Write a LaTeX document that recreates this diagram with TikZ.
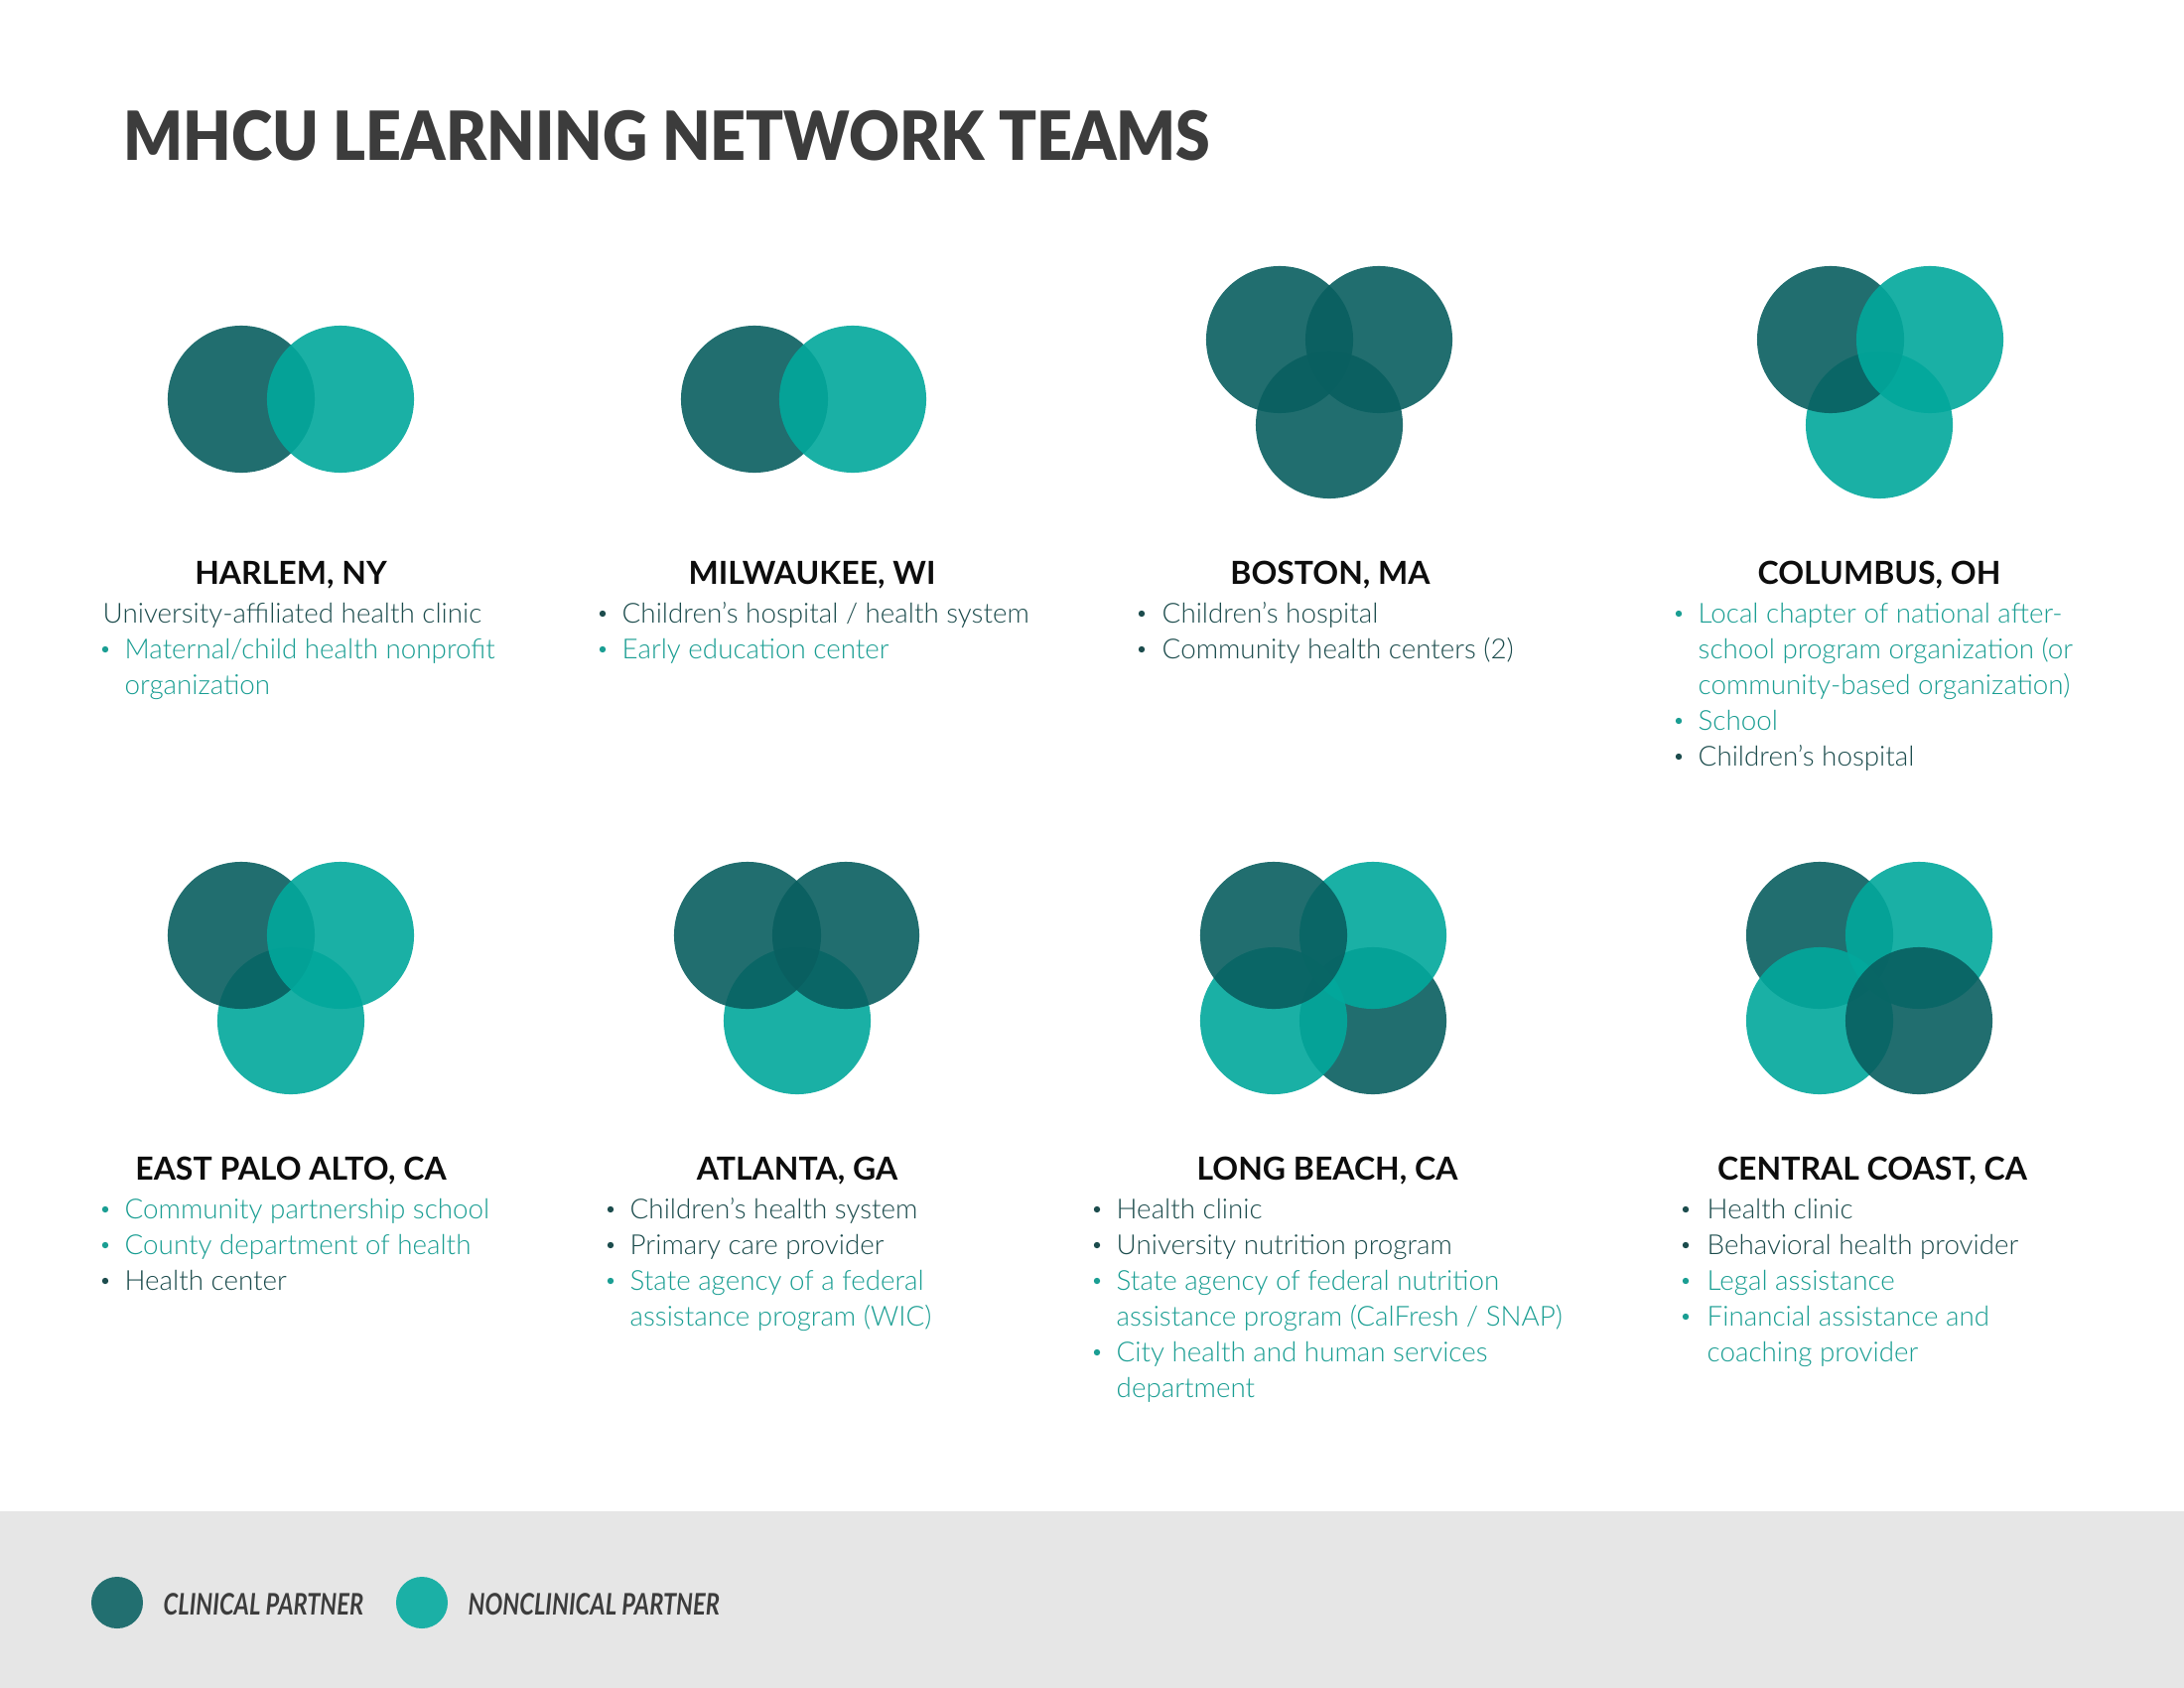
\documentclass[tikz,border=0pt]{standalone}
\usepackage{fontspec}
\setmainfont{Lato}
\IfFontExistsTF{Lato Light}{\newfontfamily\bodyfont{Lato Light}}{\newfontfamily\bodyfont{Lato}}
\IfFontExistsTF{Lato Black}{\newfontfamily\titlefont{Lato Black}[FakeStretch=0.918]}{\newfontfamily\titlefont{Lato}[FakeStretch=0.93,FakeBold=1]}
\newfontfamily\legendfont{Lato}[FakeStretch=0.79]
\definecolor{cD}{HTML}{095F60}
\definecolor{cL}{HTML}{02A89C}
\definecolor{cDs}{HTML}{226F70}
\definecolor{cLs}{HTML}{1BB0A6}
\definecolor{txD}{HTML}{1C4C4D}
\definecolor{txL}{HTML}{1A9E93}
\definecolor{ttl}{HTML}{3C3C3C}
\definecolor{band}{HTML}{E6E6E6}
\newcommand\bulD[2]{\fill[txD] (#1,#2-9) circle[radius=0.032cm];}
\newcommand\bulL[2]{\fill[txL] (#1,#2-9) circle[radius=0.032cm];}
\begin{document}
\begin{tikzpicture}[x=0.01cm,y=-0.01cm,
  dk/.style={fill=cD,fill opacity=0.9},
  lt/.style={fill=cL,fill opacity=0.9},
  body/.style={inner sep=0pt,anchor=base west,font=\bodyfont\fontsize{7.9}{9}\selectfont},
  bd/.style={body,text=txD},
  bl/.style={body,text=txL},
  head/.style={inner sep=0pt,anchor=base,font=\fontsize{9.1}{11}\selectfont\bfseries,text=black!95},
  leg/.style={inner sep=0pt,anchor=base west,font=\legendfont\fontsize{8.5}{10}\selectfont\bfseries\itshape,text=ttl}]
\fill[white] (0,0) rectangle (2200,1700);
\useasboundingbox (0,0) rectangle (2200,1700);
\fill[band] (0,1522) rectangle (2200,1700);
% title
\node[inner sep=0pt,anchor=base west,font=\titlefont\fontsize{19.4}{22}\selectfont,text=ttl] (title) at (124,162) {MHCU LEARNING NETWORK TEAMS};
% ---------- row 1 circles ----------
% Harlem
\fill[dk] (243,402) circle[radius=0.74cm];
\fill[lt] (343,402) circle[radius=0.74cm];
% Milwaukee
\fill[dk] (760,402) circle[radius=0.74cm];
\fill[lt] (859,402) circle[radius=0.74cm];
% Boston
\fill[dk] (1289,342) circle[radius=0.74cm];
\fill[dk] (1389,342) circle[radius=0.74cm];
\fill[dk] (1339,428) circle[radius=0.74cm];
% Columbus
\fill[lt] (1893,428) circle[radius=0.74cm];
\fill[dk] (1844,342) circle[radius=0.74cm];
\fill[lt] (1944,342) circle[radius=0.74cm];
% ---------- row 2 circles ----------
% East Palo Alto
\fill[lt] (293,1028) circle[radius=0.74cm];
\fill[dk] (243,942) circle[radius=0.74cm];
\fill[lt] (343,942) circle[radius=0.74cm];
% Atlanta
\fill[lt] (803,1028) circle[radius=0.74cm];
\fill[dk] (753,942) circle[radius=0.74cm];
\fill[dk] (852,942) circle[radius=0.74cm];
% Long Beach
\fill[dk] (1383,1028) circle[radius=0.74cm];
\fill[lt] (1383,942) circle[radius=0.74cm];
\fill[lt] (1283,1028) circle[radius=0.74cm];
\fill[dk] (1283,942) circle[radius=0.74cm];
% Central Coast
\fill[dk] (1833,942) circle[radius=0.74cm];
\fill[lt] (1933,942) circle[radius=0.74cm];
\fill[lt] (1833,1028) circle[radius=0.74cm];
\fill[dk] (1933,1028) circle[radius=0.74cm];
% ---------- headings ----------
\node[head] (hHarlem) at (293,588) {HARLEM, NY};
\node[head] (hMil) at (818,588) {MILWAUKEE, WI};
\node[head] (hBos) at (1340,588) {BOSTON, MA};
\node[head] (hCol) at (1893,588) {COLUMBUS, OH};
\node[head] (hEPA) at (293,1188) {EAST PALO ALTO, CA};
\node[head] (hAtl) at (803,1188) {ATLANTA, GA};
\node[head] (hLB) at (1337,1188) {LONG BEACH, CA};
\node[head] (hCC) at (1886,1188) {CENTRAL COAST, CA};
% ---------- Harlem text ----------
\node[bd] (ha1) at (103,627) {University-affiliated health clinic};
\bulL{106}{663}
\node[bl] (ha2) at (125,663) {Maternal/child health nonprofit};
\node[bl] (ha3) at (125,699) {organization};
% ---------- Milwaukee ----------
\bulD{607}{627}
\node[bd] (mi1) at (626,627) {Children’s hospital / health system};
\bulL{607}{663}
\node[bl] (mi2) at (626,663) {Early education center};
% ---------- Boston ----------
\bulD{1150}{627}
\node[bd] (bo1) at (1170,627) {Children’s hospital};
\bulD{1150}{663}
\node[bd] (bo2) at (1170,663) {Community health centers (2)};
% ---------- Columbus ----------
\bulL{1691}{627}
\node[bl] (co1) at (1710,627) {Local chapter of national after-};
\node[bl] (co2) at (1710,663) {school program organization (or};
\node[bl] (co3) at (1710,699) {community-based organization)};
\bulL{1691}{735}
\node[bl] (co4) at (1710,735) {School};
\bulD{1691}{771}
\node[bd] (co5) at (1710,771) {Children’s hospital};
% ---------- East Palo Alto ----------
\bulL{106}{1227}
\node[bl] (ep1) at (125,1227) {Community partnership school};
\bulL{106}{1263}
\node[bl] (ep2) at (125,1263) {County department of health};
\bulD{106}{1299}
\node[bd] (ep3) at (125,1299) {Health center};
% ---------- Atlanta ----------
\bulD{615}{1227}
\node[bd] (at1) at (634,1227) {Children’s health system};
\bulD{615}{1263}
\node[bd] (at2) at (634,1263) {Primary care provider};
\bulL{615}{1299}
\node[bl] (at3) at (634,1299) {State agency of a federal};
\node[bl] (at4) at (634,1335) {assistance program (WIC)};
% ---------- Long Beach ----------
\bulD{1105}{1227}
\node[bd] (lb1) at (1124,1227) {Health clinic};
\bulD{1105}{1263}
\node[bd] (lb2) at (1124,1263) {University nutrition program};
\bulL{1105}{1299}
\node[bl] (lb3) at (1124,1299) {State agency of federal nutrition};
\node[bl] (lb4) at (1124,1335) {assistance program (CalFresh / SNAP)};
\bulL{1105}{1371}
\node[bl] (lb5) at (1124,1371) {City health and human services};
\node[bl] (lb6) at (1124,1407) {department};
% ---------- Central Coast ----------
\bulD{1698}{1227}
\node[bd] (cc1) at (1719,1227) {Health clinic};
\bulD{1698}{1263}
\node[bd] (cc2) at (1719,1263) {Behavioral health provider};
\bulL{1698}{1299}
\node[bl] (cc3) at (1719,1299) {Legal assistance};
\bulL{1698}{1335}
\node[bl] (cc4) at (1719,1335) {Financial assistance and};
\node[bl] (cc5) at (1719,1371) {coaching provider};
% ---------- legend ----------
\fill[cDs] (118,1614) circle[radius=0.26cm];
\node[leg] (legC) at (164,1626) {CLINICAL PARTNER};
\fill[cLs] (425,1614) circle[radius=0.26cm];
\node[leg] (legN) at (471,1626) {NONCLINICAL PARTNER};
\end{tikzpicture}
\end{document}
